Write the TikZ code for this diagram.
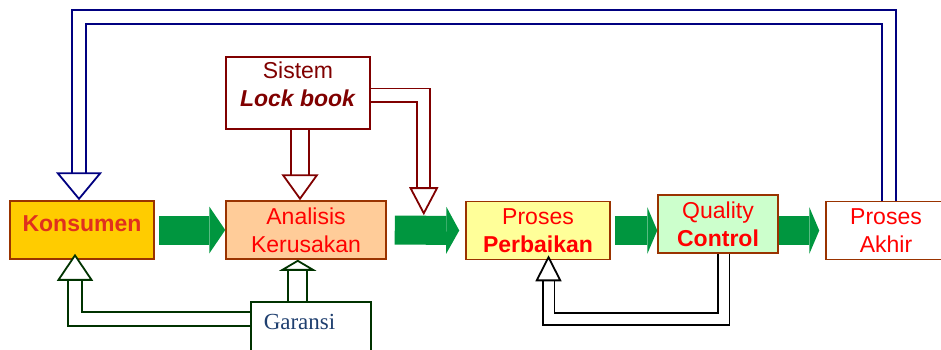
\documentclass[tikz,border=0pt]{standalone}
\usepackage{fontspec}
\setmainfont{Liberation Sans}
\newfontfamily\timesfont{Liberation Serif}
\usetikzlibrary{arrows.meta}

\definecolor{coklat}{HTML}{993300}
\definecolor{kuning}{HTML}{FFCC00}
\definecolor{peach}{HTML}{FFCC99}
\definecolor{krem}{HTML}{FFFF99}
\definecolor{hijaumuda}{HTML}{CCFFCC}
\definecolor{hijau}{HTML}{00963F}
\definecolor{hijautua}{HTML}{003300}
\definecolor{merahtua}{HTML}{800000}
\definecolor{biru}{HTML}{000080}
\definecolor{merahkons}{HTML}{E0301E}
\definecolor{birutua}{HTML}{1F3F6F}

\tikzset{
  kotak/.style={draw=coklat, line width=1.5pt, minimum height=58pt, inner sep=0pt,
    align=center, text=red, font=\fontsize{23}{28}\selectfont},
  panah/.style={hijau, line width=29pt, -{Triangle[length=#1, width=47pt, line width=0pt]}},
  panah/.default=16pt,
  blok/.style={line width=1.8pt, double=white, double distance=#1},
  ujung/.style 2 args={-{Triangle[length=#1, width=#2, fill=white, line width=1.8pt]}}
}

\begin{document}
\begin{tikzpicture}[x=1pt, y=-1pt]
    \useasboundingbox (0,0) rectangle (941,349);
    % kotak utama
    \node[kotak, fill=kuning, minimum width=144pt, text=merahkons, text depth=12pt] (kons) at (82,230) {\textbf{Konsumen}};
    \node[kotak, fill=peach, minimum width=160pt] (ana) at (306,230) {Analisis\\Kerusakan};
    \node[kotak, fill=krem, minimum width=144pt] (perb) at (538,230.5) {Proses\\\textbf{Perbaikan}};
    \node[kotak, fill=hijaumuda, minimum width=120pt] (qc) at (718,224) {Quality\\\textbf{Control}};
    \node[kotak, fill=white, minimum width=120pt] (akhir) at (886,230.5) {Proses\\Akhir};
    \node[kotak, draw=merahtua, fill=white, minimum width=144pt, minimum height=72pt,
      text=merahtua, text depth=17pt] (sis) at (298,93) {Sistem\\\textbf{\textit{Lock book}}};
    \node[draw=hijautua, line width=1.5pt, fill=white, anchor=north west, text width=94pt,
      align=left, inner xsep=13pt, inner ysep=6pt, text height=22pt, text depth=32pt,
      text=birutua, font=\timesfont\fontsize{23}{28}\selectfont] (gar) at (250,301) {Garansi};

    % panah hijau
    \draw[panah] ([xshift=4pt]kons.east) -- (ana.west);
    \draw[panah=13pt] ([xshift=8pt]ana.east) -- coordinate[pos=.45] (g2) ([xshift=-6pt]perb.west);
    \draw[panah=10pt] ([xshift=4pt]perb.east) -- (perb.east -| qc.west);
    \draw[panah=10pt] (qc.east |- perb.east) -- ([xshift=-6pt]akhir.west);

    % panah blok
    \draw[blok=16.4pt, merahtua, ujung={26pt}{37pt}] ([xshift=2pt]sis.south) -- ([xshift=2pt]sis.south |- ana.north);
    \draw[blok=11.4pt, merahtua, ujung={28pt}{29pt}] ([yshift=-2pt]sis.east) -| ([yshift=15pt]g2);
    \draw[blok=12.4pt, biru, ujung={28pt}{46pt}] ([xshift=3pt]akhir.north) -- ++(0,-184) -| ([xshift=-3pt]kons.north);
    \draw[blok=17.4pt, hijautua, ujung={11pt}{37pt}] ([xshift=-13pt]gar.north) -- ([xshift=-13pt]gar.north |- ana.south);
    \draw[blok=12.4pt, hijautua, ujung={27pt}{36pt}] ([yshift=16pt]gar.west) -| ([xshift=-7pt,yshift=6pt]kons.south);
    \draw[blok=10pt, black, ujung={26pt}{26pt}] ([xshift=5.5pt]qc.south) -- ++(0,65) -| ([xshift=10.5pt,yshift=5pt]perb.south);
\end{tikzpicture}
\end{document}
